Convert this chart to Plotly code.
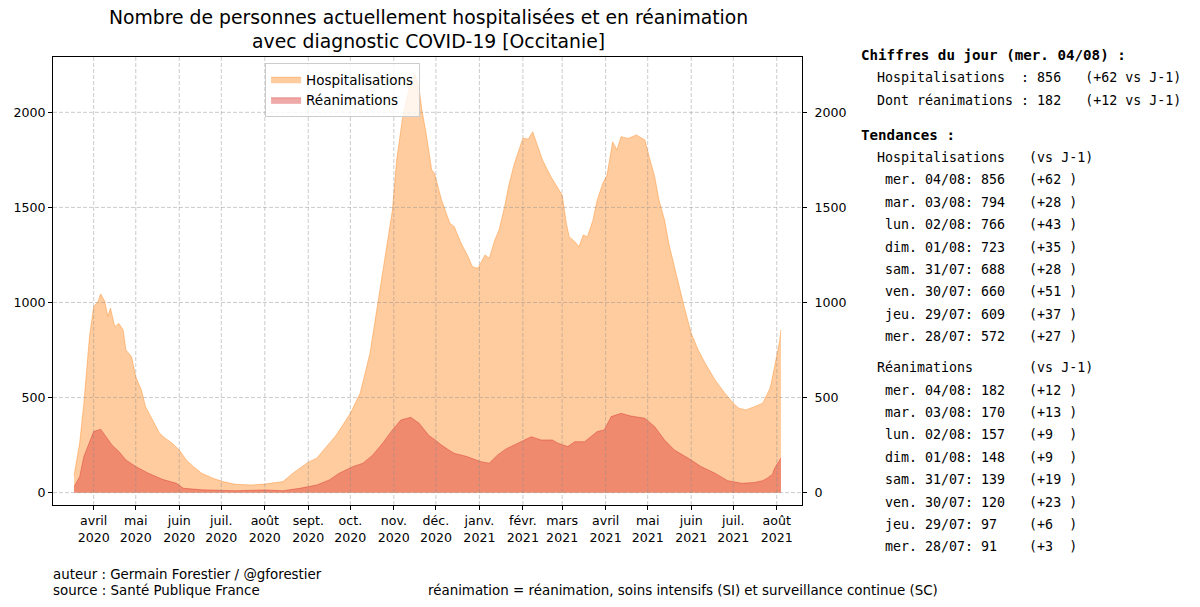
import datetime
import plotly.graph_objects as go

# ---------------- data ----------------
hosp_dates = [
    "2020-03-18", "2020-03-20", "2020-03-22", "2020-03-25", "2020-03-29", "2020-04-01",
    "2020-04-04", "2020-04-06", "2020-04-09", "2020-04-11", "2020-04-13", "2020-04-16",
    "2020-04-19", "2020-04-22", "2020-04-24", "2020-04-28", "2020-05-01", "2020-05-05",
    "2020-05-08", "2020-05-13", "2020-05-18", "2020-05-22", "2020-05-27", "2020-06-01",
    "2020-06-06", "2020-06-11", "2020-06-17", "2020-06-25", "2020-07-02", "2020-07-11",
    "2020-07-22", "2020-08-01", "2020-08-14", "2020-08-21", "2020-09-01", "2020-09-07",
    "2020-09-14", "2020-09-21", "2020-10-01", "2020-10-08", "2020-10-15", "2020-10-21",
    "2020-10-27", "2020-10-31", "2020-11-03", "2020-11-07", "2020-11-10", "2020-11-13",
    "2020-11-16", "2020-11-19", "2020-11-21", "2020-11-24", "2020-11-28", "2020-11-30",
    "2020-12-05", "2020-12-11", "2020-12-14", "2020-12-19", "2020-12-24", "2020-12-27",
    "2020-12-31", "2021-01-05", "2021-01-08", "2021-01-12", "2021-01-15", "2021-01-19",
    "2021-01-22", "2021-01-26", "2021-02-01", "2021-02-05", "2021-02-08", "2021-02-12",
    "2021-02-15", "2021-02-21", "2021-02-25", "2021-03-01", "2021-03-04", "2021-03-06",
    "2021-03-10", "2021-03-13", "2021-03-16", "2021-03-19", "2021-03-23", "2021-03-26",
    "2021-03-30", "2021-04-02", "2021-04-06", "2021-04-09", "2021-04-12", "2021-04-17",
    "2021-04-23", "2021-04-29", "2021-05-02", "2021-05-06", "2021-05-09", "2021-05-13",
    "2021-05-16", "2021-05-20", "2021-05-24", "2021-05-27", "2021-06-01", "2021-06-06",
    "2021-06-11", "2021-06-18", "2021-06-25", "2021-07-01", "2021-07-05", "2021-07-10",
    "2021-07-16", "2021-07-22", "2021-07-25", "2021-07-27", "2021-07-28", "2021-07-29",
    "2021-07-30", "2021-07-31", "2021-08-01", "2021-08-02", "2021-08-03", "2021-08-04",
]
hosp_values = [
    90, 180, 260, 470, 820, 978,
    1004, 1045, 1005, 928, 970, 873,
    890, 855, 750, 715, 610, 540,
    452, 382, 312, 286, 260, 224,
    172, 137, 102, 76, 58, 44,
    40, 45, 58, 102, 160, 181,
    242, 303, 417, 523, 733, 1013,
    1311, 1486, 1749, 1960, 2065, 2160,
    2200, 2130, 2012, 1890, 1697, 1679,
    1539, 1416, 1400, 1311, 1241, 1188,
    1180, 1250, 1232, 1329, 1381, 1504,
    1618, 1732, 1863, 1860, 1898, 1811,
    1749, 1661, 1609, 1565, 1416, 1346,
    1320, 1293, 1355, 1346, 1434, 1539,
    1627, 1670, 1845, 1802, 1872, 1863,
    1881, 1854, 1767, 1661, 1539, 1434,
    1311, 1188, 1066, 978, 838, 750,
    680, 593, 523, 470, 444, 435,
    452, 470, 515, 545, 572, 609,
    660, 688, 723, 766, 794, 856,
]

rea_dates = [
    "2020-03-18", "2020-03-22", "2020-03-25", "2020-03-29", "2020-04-01", "2020-04-06",
    "2020-04-10", "2020-04-14", "2020-04-19", "2020-04-24", "2020-05-01", "2020-05-10",
    "2020-05-20", "2020-05-30", "2020-06-04", "2020-06-17", "2020-07-11", "2020-07-25",
    "2020-08-01", "2020-08-14", "2020-08-26", "2020-09-07", "2020-09-16", "2020-09-23",
    "2020-10-03", "2020-10-10", "2020-10-17", "2020-10-24", "2020-10-31", "2020-11-06",
    "2020-11-13", "2020-11-19", "2020-11-26", "2020-11-30", "2020-12-05", "2020-12-11",
    "2020-12-14", "2020-12-23", "2021-01-02", "2021-01-08", "2021-01-14", "2021-01-20",
    "2021-01-28", "2021-02-07", "2021-02-14", "2021-02-22", "2021-02-26", "2021-03-05",
    "2021-03-10", "2021-03-17", "2021-03-26", "2021-03-31", "2021-04-05", "2021-04-12",
    "2021-04-19", "2021-04-29", "2021-05-06", "2021-05-13", "2021-05-20", "2021-05-30",
    "2021-06-08", "2021-06-18", "2021-06-27", "2021-07-07", "2021-07-16", "2021-07-22",
    "2021-07-25", "2021-07-27", "2021-07-28", "2021-07-29", "2021-07-30", "2021-07-31",
    "2021-08-01", "2021-08-02", "2021-08-03", "2021-08-04",
]
rea_values = [
    30, 84, 190, 268, 321, 333,
    294, 251, 216, 172, 137, 102,
    70, 49, 23, 15, 10, 12,
    14, 10, 23, 40, 67, 102,
    137, 155, 198, 260, 330, 382,
    396, 365, 300, 280, 250, 220,
    207, 190, 163, 155, 198, 230,
    260, 294, 277, 277, 260, 242,
    268, 268, 321, 330, 400, 417,
    403, 391, 347, 277, 224, 181,
    137, 102, 63, 49, 53, 63,
    75, 88, 91, 97, 120, 139,
    148, 157, 170, 182,
]

month_ticks = [
    "2020-04-01", "2020-05-01", "2020-06-01", "2020-07-01", "2020-08-01", "2020-09-01",
    "2020-10-01", "2020-11-01", "2020-12-01", "2021-01-01", "2021-02-01", "2021-03-01",
    "2021-04-01", "2021-05-01", "2021-06-01", "2021-07-01", "2021-08-01",
]
month_labels = [
    "avril<br>2020", "mai<br>2020", "juin<br>2020", "juil.<br>2020", "août<br>2020",
    "sept.<br>2020", "oct.<br>2020", "nov.<br>2020", "déc.<br>2020", "janv.<br>2021",
    "févr.<br>2021", "mars<br>2021", "avril<br>2021", "mai<br>2021", "juin<br>2021",
    "juil.<br>2021", "août<br>2021",
]
y_ticks = [0, 500, 1000, 1500, 2000]
day_names = ["lun.", "mar.", "mer.", "jeu.", "ven.", "sam.", "dim."]

# ---------------- geometry helpers ----------------
W, H = 1200, 607
L, R, T, B = 53, 801.7, 57, 505  # plot area in pixels


def px_x(px):
    return (px - L) / (R - L)


def px_y(py):
    return (B - py) / (B - T)


DEJAVU = "DejaVu Sans, Verdana, sans-serif"
MONO = "DejaVu Sans Mono, monospace"
X_RANGE = ["2020-03-03", "2021-08-19"]
Y_RANGE = [-65, 2291]

fig = go.Figure()
fig.add_trace(go.Scatter(
    x=hosp_dates, y=hosp_values, name="Hospitalisations",
    mode="lines", fill="tozeroy",
    line=dict(color="rgba(255,127,14,0.4)", width=1),
    fillcolor="rgba(255,127,14,0.4)",
))
fig.add_trace(go.Scatter(
    x=rea_dates, y=rea_values, name="Réanimations",
    mode="lines", fill="tozeroy",
    line=dict(color="rgba(214,39,40,0.4)", width=1),
    fillcolor="rgba(214,39,40,0.4)",
))
# invisible trace so the right-hand axis is drawn
fig.add_trace(go.Scatter(
    x=[hosp_dates[0]], y=[0], yaxis="y2", mode="lines",
    line=dict(width=0), showlegend=False, hoverinfo="skip",
))

axis_font = dict(family=DEJAVU, size=12.6, color="black")

# dashed grid drawn above the filled areas (as in the reference)
GRID = dict(color="rgba(140,140,140,0.45)", width=1, dash="4px,2px")
shapes = []
for t in month_ticks:
    shapes.append(dict(type="line", xref="x", yref="paper", x0=t, x1=t, y0=0, y1=1,
                       line=GRID, layer="above"))
for v in y_ticks:
    shapes.append(dict(type="line", xref="paper", yref="y", x0=0, x1=1, y0=v, y1=v,
                       line=GRID, layer="above"))

fig.update_layout(
    width=W, height=H,
    margin=dict(l=L, r=W - R, t=T, b=H - B, autoexpand=False),
    paper_bgcolor="white", plot_bgcolor="white",
    showlegend=True,
    shapes=shapes,
    legend=dict(
        x=px_x(265), y=px_y(63), xanchor="left", yanchor="top",
        bgcolor="rgba(255,255,255,0.8)", bordercolor="#cccccc", borderwidth=1,
        font=dict(family=DEJAVU, size=13.5, color="black"),
        itemwidth=30, tracegroupgap=0,
    ),
    xaxis=dict(
        type="date", range=X_RANGE,
        tickmode="array", tickvals=month_ticks, ticktext=month_labels,
        ticks="outside", ticklen=4, tickcolor="black", tickwidth=1,
        showline=True, linecolor="black", linewidth=1, mirror=True,
        showgrid=False, zeroline=False, tickfont=axis_font, automargin=False,
    ),
    yaxis=dict(
        range=Y_RANGE, tickmode="array", tickvals=y_ticks,
        ticks="outside", ticklen=4, tickcolor="black",
        showline=True, linecolor="black", linewidth=1, mirror=True,
        showgrid=False, zeroline=False, tickfont=axis_font, automargin=False,
    ),
    yaxis2=dict(
        range=Y_RANGE, tickmode="array", tickvals=y_ticks, overlaying="y", side="right",
        ticks="outside", ticklen=4, tickcolor="black",
        showline=True, linecolor="black", linewidth=1, ticklabelstandoff=5,
        showgrid=False, zeroline=False, tickfont=axis_font, automargin=False,
    ),
)

annotations = []

# Title
annotations.append(dict(
    text="Nombre de personnes actuellement hospitalisées et en réanimation<br>"
         "avec diagnostic COVID-19 [Occitanie]",
    x=px_x(428), y=px_y(30), xref="paper", yref="paper",
    xanchor="center", yanchor="middle", showarrow=False, align="center",
    font=dict(family=DEJAVU, size=18.8, color="black"),
))

# Footer
footer = [
    ("auteur : Germain Forestier / @gforestier", 51, 574),
    ("source : Santé Publique France", 51, 590.5),
    ("réanimation = réanimation, soins intensifs (SI) et surveillance continue (SC)", 426, 590.5),
]
for txt, fx, fy in footer:
    annotations.append(dict(
        text=txt, x=px_x(fx), y=px_y(fy), xref="paper", yref="paper",
        xanchor="left", yanchor="middle", showarrow=False,
        font=dict(family=DEJAVU, size=13.4, color="black"),
    ))


# Side panel (monospace text built from the data)
def nb(s):
    return s.replace(" ", "\u00a0")


def last_rows(dates, values, n=8):
    rows = []
    for i in range(len(values) - 1, len(values) - 1 - n, -1):
        d = datetime.date.fromisoformat(dates[i])
        diff = values[i] - values[i - 1]
        label = f"{day_names[d.weekday()]} {d.strftime('%d/%m')}"
        rows.append(f"   {label}: {values[i]:<3}   ({f'{diff:+d}':<4})")
    return rows


last_day = datetime.date.fromisoformat(hosp_dates[-1])
day_lbl = f"{day_names[last_day.weekday()]} {last_day.strftime('%d/%m')}"
h_diff = hosp_values[-1] - hosp_values[-2]
r_diff = rea_values[-1] - rea_values[-2]

PX0 = 859
panel = [
    (f"<b>Chiffres du jour ({day_lbl}) :</b>", 55, True),
    (f"  Hospitalisations  : {hosp_values[-1]:<3}   ({h_diff:+d} vs J-1)", 77.5, False),
    (f"  Dont réanimations : {rea_values[-1]:<3}   ({r_diff:+d} vs J-1)", 100, False),
    ("<b>Tendances :</b>", 134.5, True),
    ("  Hospitalisations   (vs J-1)", 157.5, False),
]
for i, row in enumerate(last_rows(hosp_dates, hosp_values)):
    panel.append((row, 179.8 + 22.4 * i, False))
panel.append(("  Réanimations       (vs J-1)", 367.5, False))
for i, row in enumerate(last_rows(rea_dates, rea_values)):
    panel.append((row, 390 + 22.4 * i, False))

for txt, py, bold in panel:
    annotations.append(dict(
        text=nb(txt), x=px_x(PX0), y=px_y(py), xref="paper", yref="paper",
        xanchor="left", yanchor="middle", showarrow=False, align="left",
        font=dict(family=MONO, size=14.2 if bold else 13.3, color="black"),
    ))

fig.update_layout(annotations=annotations)
fig.write_html("out.html")
